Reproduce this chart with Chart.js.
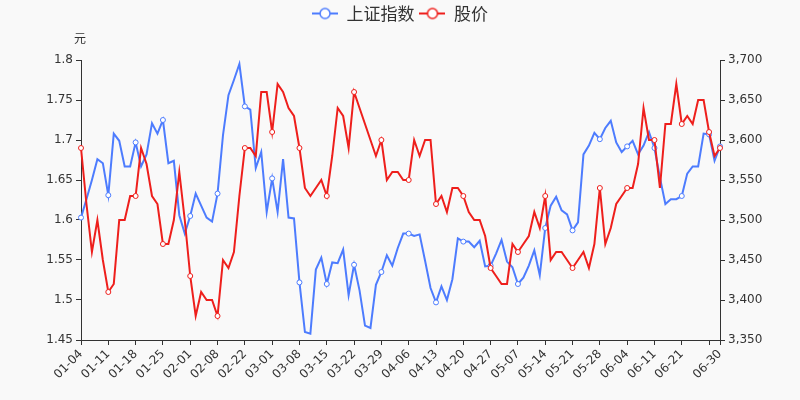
<!DOCTYPE html>
<html>
<head>
<meta charset="utf-8">
<script src="https://cdn.jsdelivr.net/npm/chart.js@4.4.0/dist/chart.umd.min.js"></script>
<style>
    html, body { margin: 0; padding: 0; background: #f9f9f9; }
    #wrap { width: 800px; height: 400px; }
</style>
</head>
<body>
<div id="wrap"><canvas id="chart" width="800" height="400"></canvas></div>
<script>
// trading days, Jan - Jun
const dates = [
    '01-04','01-05','01-06','01-07','01-08','01-11','01-12','01-13','01-14','01-15',
    '01-18','01-19','01-20','01-21','01-22','01-25','01-26','01-27','01-28','01-29',
    '02-01','02-02','02-03','02-04','02-05','02-08','02-09','02-10','02-18','02-19',
    '02-22','02-23','02-24','02-25','02-26','03-01','03-02','03-03','03-04','03-05',
    '03-08','03-09','03-10','03-11','03-12','03-15','03-16','03-17','03-18','03-19',
    '03-22','03-23','03-24','03-25','03-26','03-29','03-30','03-31','04-01','04-02',
    '04-06','04-07','04-08','04-09','04-12','04-13','04-14','04-15','04-16','04-19',
    '04-20','04-21','04-22','04-23','04-26','04-27','04-28','04-29','04-30','05-06',
    '05-07','05-10','05-11','05-12','05-13','05-14','05-17','05-18','05-19','05-20',
    '05-21','05-24','05-25','05-26','05-27','05-28','05-31','06-01','06-02','06-03',
    '06-04','06-07','06-08','06-09','06-10','06-11','06-15','06-16','06-17','06-18',
    '06-21','06-22','06-23','06-24','06-25','06-28','06-29','06-30'
];

const indexValues = [
    3503, 3526, 3550, 3576, 3571, 3531, 3608, 3599, 3567, 3567,
    3597, 3567, 3582, 3621, 3608, 3625, 3571, 3574, 3506, 3483,
    3505, 3533, 3518, 3503, 3498, 3533, 3606, 3656, 3675, 3695,
    3642, 3638, 3565, 3585, 3510, 3552, 3510, 3576, 3503, 3502,
    3422, 3360, 3358, 3438, 3453, 3420, 3447, 3446, 3463, 3406,
    3444, 3412, 3368, 3365, 3419, 3435, 3456, 3443, 3465, 3483,
    3483, 3480, 3482, 3449, 3415, 3397, 3417, 3400, 3426, 3477,
    3473, 3473, 3466, 3474, 3442, 3443, 3458, 3475, 3448, 3441,
    3420, 3428, 3443, 3462, 3431, 3490, 3518, 3529, 3512, 3507,
    3487, 3497, 3582, 3593, 3609, 3601, 3615, 3624, 3597, 3585,
    3592, 3599, 3582, 3593, 3610, 3590, 3553, 3520, 3526, 3526,
    3530, 3558, 3567, 3567, 3608, 3607, 3574, 3592
];

const priceValues = [
    1.69, 1.62, 1.56, 1.60, 1.55, 1.51, 1.52, 1.60, 1.60, 1.63,
    1.63, 1.69, 1.67, 1.63, 1.62, 1.57, 1.57, 1.60, 1.66, 1.60,
    1.53, 1.48, 1.51, 1.50, 1.50, 1.48, 1.55, 1.54, 1.56, 1.63,
    1.69, 1.69, 1.68, 1.76, 1.76, 1.71, 1.77, 1.76, 1.74, 1.73,
    1.69, 1.64, 1.63, 1.64, 1.65, 1.63, 1.68, 1.74, 1.73, 1.69,
    1.76, 1.74, 1.72, 1.70, 1.68, 1.70, 1.65, 1.66, 1.66, 1.65,
    1.65, 1.70, 1.68, 1.70, 1.70, 1.62, 1.63, 1.61, 1.64, 1.64,
    1.63, 1.61, 1.60, 1.60, 1.58, 1.54, 1.53, 1.52, 1.52, 1.57,
    1.56, 1.57, 1.58, 1.61, 1.59, 1.63, 1.55, 1.56, 1.56, 1.55,
    1.54, 1.55, 1.56, 1.54, 1.57, 1.64, 1.57, 1.59, 1.62, 1.63,
    1.64, 1.64, 1.67, 1.74, 1.70, 1.70, 1.64, 1.72, 1.72, 1.77,
    1.72, 1.73, 1.72, 1.75, 1.75, 1.71, 1.68, 1.69
];

const BLUE = '#4d7cfe';
const RED = '#ee1f1c';
const AXIS = '#333';
const last = dates.length - 1;

const showTick = (i) => i % 5 === 0 || i === last;
const showLabel = (i) => (i % 5 === 0 && i !== 115) || i === last;
const markerRadius = (ctx) => (showTick(ctx.dataIndex) ? 2.5 : 0);

// legend symbol: short line with a hollow circle
const legendIcon = (color) => {
    const c = document.createElement('canvas');
    c.width = 26;
    c.height = 14;
    const g = c.getContext('2d');
    g.strokeStyle = color;
    g.lineWidth = 2;
    g.beginPath();
    g.moveTo(0, 7);
    g.lineTo(26, 7);
    g.stroke();
    g.beginPath();
    g.arc(13, 7, 5, 0, Math.PI * 2);
    g.fillStyle = '#fff';
    g.fill();
    g.lineWidth = 1.5;
    g.stroke();
    return c;
};

const fixedLegend = {
    id: 'fixedLegend',
    beforeInit(chart) {
        const fit = chart.legend.fit;
        chart.legend.fit = function () {
            fit.call(this);
            this.height = 60;
        };
    }
};

const unitLabel = {
    id: 'unitLabel',
    afterDraw(chart) {
        const ctx = chart.ctx;
        ctx.save();
        ctx.fillStyle = AXIS;
        ctx.font = '12px "Noto Sans CJK SC"';
        ctx.textAlign = 'center';
        ctx.textBaseline = 'middle';
        ctx.fillText('元', 80, 38);
        ctx.restore();
    }
};

const tickFont = { family: 'DejaVu Sans', size: 12 };

new Chart(document.getElementById('chart'), {
    type: 'line',
    data: {
        labels: dates,
        datasets: [
            {
                label: '上证指数',
                data: indexValues,
                yAxisID: 'yIndex',
                borderColor: BLUE,
                borderWidth: 2,
                pointRadius: markerRadius,
                pointBackgroundColor: '#fff',
                pointBorderColor: BLUE,
                pointBorderWidth: 1,
                tension: 0,
                order: 1,
            },
            {
                label: '股价',
                data: priceValues,
                yAxisID: 'yPrice',
                borderColor: RED,
                borderWidth: 2,
                pointRadius: markerRadius,
                pointBackgroundColor: '#fff',
                pointBorderColor: RED,
                pointBorderWidth: 1,
                tension: 0,
                order: 0,
            },
        ],
    },
    options: {
        responsive: false,
        animation: false,
        devicePixelRatio: 1,
        layout: { padding: 0 },
        plugins: {
            tooltip: { enabled: false },
            legend: {
                position: 'top',
                labels: {
                    usePointStyle: true,
                    pointStyleWidth: 26,
                    padding: 5,
                    color: AXIS,
                    font: { family: 'Noto Sans CJK SC', size: 17 },
                    generateLabels: (chart) => chart.data.datasets.map((ds, i) => ({
                        text: ds.label,
                        datasetIndex: i,
                        fontColor: AXIS,
                        pointStyle: legendIcon(ds.borderColor),
                        lineWidth: 0,
                        hidden: false,
                    })),
                },
            },
        },
        scales: {
            x: {
                grid: {
                    drawOnChartArea: false,
                    tickLength: 5,
                    color: (ctx) => (showTick(ctx.index) ? AXIS : 'rgba(0,0,0,0)'),
                },
                border: { color: AXIS },
                ticks: {
                    autoSkip: false,
                    maxRotation: 45,
                    minRotation: 45,
                    color: AXIS,
                    font: tickFont,
                    padding: 2,
                    callback: (v, i) => (showLabel(i) ? dates[i] : ''),
                },
                afterFit: (scale) => { scale.height = 60; },
            },
            yPrice: {
                position: 'left',
                min: 1.45,
                max: 1.8,
                grid: { drawOnChartArea: false, tickLength: 5, color: AXIS },
                border: { color: AXIS },
                ticks: {
                    stepSize: 0.05,
                    color: AXIS,
                    font: tickFont,
                    padding: 3,
                    callback: (v) => String(+v.toFixed(2)),
                },
                afterFit: (scale) => { scale.width = 81; },
            },
            yIndex: {
                position: 'right',
                min: 3350,
                max: 3700,
                grid: { drawOnChartArea: false, tickLength: 5, color: AXIS },
                border: { color: AXIS },
                ticks: {
                    stepSize: 50,
                    color: AXIS,
                    font: tickFont,
                    padding: 3,
                    callback: (v) => v.toLocaleString('en-US'),
                },
                afterFit: (scale) => { scale.width = 80; },
            },
        },
    },
    plugins: [fixedLegend, unitLabel],
});
</script>
</body>
</html>
